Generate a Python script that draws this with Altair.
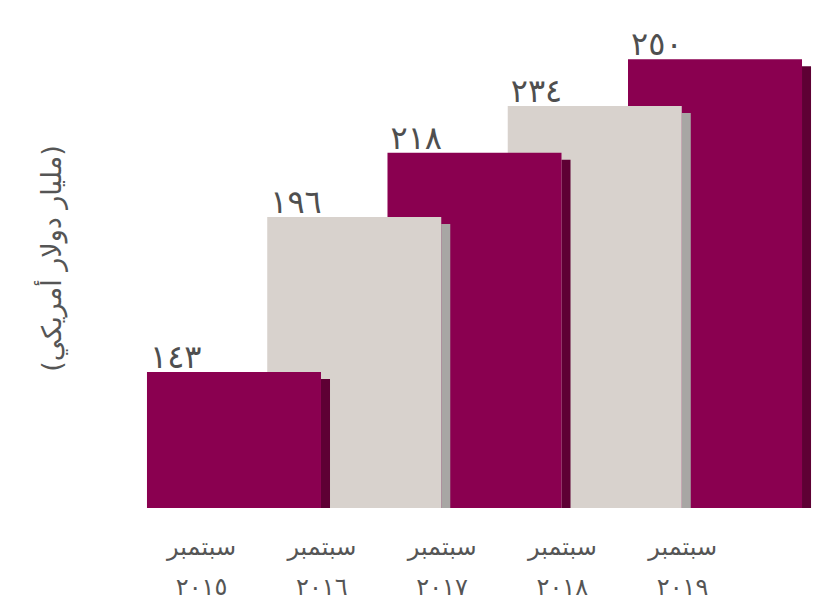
import json
import altair as alt
import pandas as pd

# ---- data ----
months = ["سبتمبر", "سبتمبر", "سبتمبر", "سبتمبر", "سبتمبر"]
years = ["٢٠١٥", "٢٠١٦", "٢٠١٧", "٢٠١٨", "٢٠١٩"]
values = [143, 196, 218, 234, 250]
value_labels = ["١٤٣", "١٩٦", "٢١٨", "٢٣٤", "٢٥٠"]
tones = ["dark", "light", "dark", "light", "dark"]
y_title = "(مليار دولار أمريكي)"

df = pd.DataFrame({
    "idx": list(range(len(values))),
    "year": years,
    "value": values,
    "label": value_labels,
    "tone": tones,
})

BAR_W = 1.447   # front width in category slots (bars overlap)
SIDE_W = 0.075  # depth strip width
Y_MIN = 96.5

color_scale = alt.Scale(
    domain=["dark", "light", "dark_side", "light_side"],
    range=["#8A0050", "#D8D2CD", "#5E0034", "#A8A6A4"],
)

x_scale = alt.Scale(domain=[-0.058, 5.555], nice=False, zero=False)
y_scale = alt.Scale(domain=[Y_MIN, 267.5], nice=False, zero=False)

label_expr = "[{m}[floor(datum.value)], {y}[floor(datum.value)]]".format(
    m=json.dumps(months, ensure_ascii=False), y=json.dumps(years, ensure_ascii=False)
)

x_axis = alt.Axis(
    values=[i + 0.45 for i in range(len(values))],
    labelExpr=label_expr,
    grid=False, ticks=False, domain=False, title=None,
    labelFontSize=24, labelLineHeight=40, labelPadding=27,
    labelColor="#555555", labelFont="DejaVu Sans",
    labelOverlap=False, labelFlush=False, labelBound=False,
)
y_axis = alt.Axis(
    labels=False, ticks=False, domain=False, grid=False,
    title=y_title, titleFontSize=27, titleFontWeight="normal",
    titleColor="#555555", titleFont="DejaVu Sans", titlePadding=74,
)

base = alt.Chart(df).transform_calculate(
    x0="datum.idx",
    x1="datum.idx + %f" % BAR_W,
    x2="datum.idx + %f" % (BAR_W + SIDE_W),
    side_tone="datum.tone + '_side'",
)

layers = []
for i in reversed(range(len(values))):
    side = base.transform_filter(alt.datum.idx == i).mark_rect(yOffset=7).encode(
        x=alt.X("x1:Q", scale=x_scale, axis=x_axis),
        x2="x2:Q",
        y=alt.Y("value:Q", scale=y_scale, axis=y_axis),
        y2=alt.datum(Y_MIN),
        color=alt.Color("side_tone:N", scale=color_scale, legend=None),
    )
    front = base.transform_filter(alt.datum.idx == i).mark_rect().encode(
        x=alt.X("x0:Q", scale=x_scale, axis=x_axis),
        x2="x1:Q",
        y=alt.Y("value:Q", scale=y_scale, axis=y_axis),
        y2=alt.datum(Y_MIN),
        color=alt.Color("tone:N", scale=color_scale, legend=None),
    )
    layers += [side, front]

text = base.mark_text(
    align="left", baseline="alphabetic", dx=3, dy=-4,
    fontSize=32, color="#4F4F4F", font="DejaVu Sans",
).encode(
    x=alt.X("x0:Q", scale=x_scale, axis=x_axis),
    y=alt.Y("value:Q", scale=y_scale, axis=y_axis),
    text="label:N",
)
layers.append(text)

chart = alt.layer(*layers).properties(
    width=675, height=500,
    autosize=alt.AutoSizeParams(type="none"),
    padding={"left": 132, "top": 0, "right": 0, "bottom": 100},
    background="white",
).configure_view(stroke=None)

chart.save("out.html", embed_options={"renderer": "svg", "actions": False})
